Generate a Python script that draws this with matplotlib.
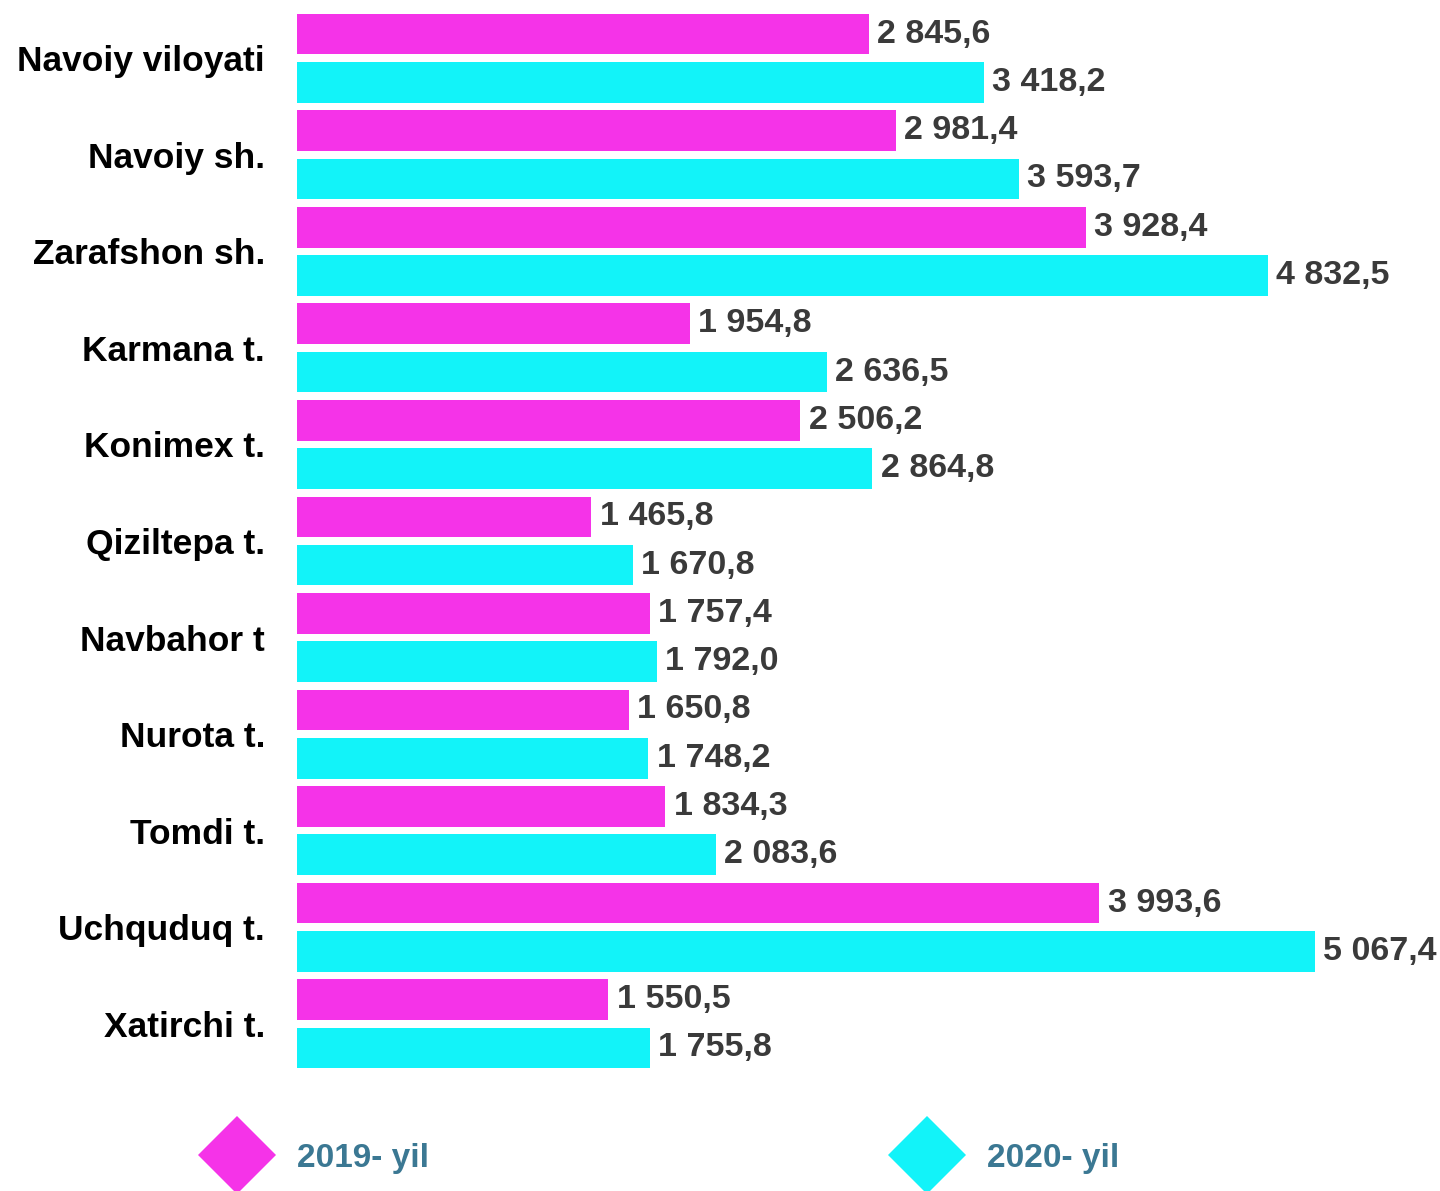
#IMPORT LIBRARIES
import matplotlib
matplotlib.use("Agg")
import matplotlib.pyplot as plt
from matplotlib.lines import Line2D
import numpy as np

#DATA
regions = ["Navoiy viloyati", "Navoiy sh.", "Zarafshon sh.", "Karmana t.", "Konimex t.",
           "Qiziltepa t.", "Navbahor t", "Nurota t.", "Tomdi t.", "Uchquduq t.", "Xatirchi t."]
y2019 = [2845.6, 2981.4, 3928.4, 1954.8, 2506.2, 1465.8, 1757.4, 1650.8, 1834.3, 3993.6, 1550.5]
y2020 = [3418.2, 3593.7, 4832.5, 2636.5, 2864.8, 1670.8, 1792.0, 1748.2, 2083.6, 5067.4, 1755.8]
series_names = ["2019- yil", "2020- yil"]

#STYLE
c19 = "#F533E8"
c20 = "#12F3F9"
val_color = "#3a3a3a"
leg_color = "#3b7893"
plt.rcParams["font.family"] = ["Liberation Sans", "DejaVu Sans"]

def fmt(v):
    #SPACE AS THOUSANDS SEPARATOR, COMMA AS DECIMAL MARK
    return f"{v:,.1f}".replace(",", " ").replace(".", ",")

#FIGURE LAYOUT
fig = plt.figure(figsize=(14.4, 11.91), dpi=100)
ax = fig.add_axes([297/1440, 119/1191, 1143/1440, 1062/1191])

y = np.arange(len(regions))
h = 0.42
b1 = ax.barh(y - 0.25, y2019, height=h, color=c19)
b2 = ax.barh(y + 0.25, y2020, height=h, color=c20)

#VALUE LABELS
for bars, vals in [(b1, y2019), (b2, y2020)]:
    for bar, v in zip(bars, vals):
        ax.annotate(fmt(v), (bar.get_width(), bar.get_y() + bar.get_height()/2),
                    xytext=(6, 0), textcoords="offset points", va="center", ha="left",
                    fontsize=24.5, fontweight="bold", color=val_color)

#AXES CLEANUP
ax.set_xlim(0, 5690)
ax.set_ylim(len(regions) - 0.5, -0.5)
ax.set_yticks(y)
ax.set_yticklabels(regions, fontsize=25.5, fontweight="bold", color="black")
ax.tick_params(axis="y", length=0, pad=23)
ax.set_xticks([])
for s in ax.spines.values():
    s.set_visible(False)

#LEGEND WITH DIAMONDS
handles = [Line2D([], [], marker="D", linestyle="none", markersize=40, color=c19, markeredgewidth=0),
           Line2D([], [], marker="D", linestyle="none", markersize=40, color=c20, markeredgewidth=0)]
leg = fig.legend(handles, series_names, ncol=2, loc="center left",
                 bbox_to_anchor=(207/1440, 33/1191), frameon=False,
                 handlelength=1.8, handletextpad=0.9, columnspacing=14.05, borderpad=0, borderaxespad=0,
                 prop={"weight": "bold", "size": 24})
for t in leg.get_texts():
    t.set_color(leg_color)

fig.savefig("out.png", dpi=100)
